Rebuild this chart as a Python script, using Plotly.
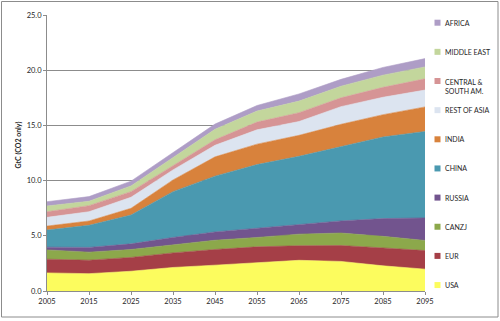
import plotly.graph_objects as go

# Regional CO2 emissions scenario (GtC), stacked by region
years = [2005, 2015, 2025, 2035, 2045, 2055, 2065, 2075, 2085, 2095]

usa = [1.64, 1.57, 1.79, 2.13, 2.34, 2.55, 2.78, 2.68, 2.28, 1.98]
eur = [1.24, 1.22, 1.25, 1.32, 1.42, 1.45, 1.32, 1.44, 1.62, 1.68]
canzj = [0.84, 0.73, 0.72, 0.70, 0.84, 0.85, 1.05, 1.13, 1.05, 0.92]
russia = [0.25, 0.43, 0.51, 0.70, 0.75, 0.82, 0.90, 1.10, 1.61, 2.04]
china = [1.55, 2.00, 2.61, 4.15, 5.05, 5.78, 6.15, 6.75, 7.39, 7.83]
india = [0.36, 0.39, 0.61, 1.06, 1.75, 1.85, 1.90, 2.00, 2.02, 2.22]
rest_of_asia = [0.79, 0.84, 1.00, 0.91, 1.05, 1.30, 1.25, 1.60, 1.58, 1.53]
central_south_am = [0.51, 0.55, 0.51, 0.39, 0.50, 0.70, 0.80, 0.80, 0.90, 1.02]
middle_east = [0.52, 0.40, 0.52, 0.74, 0.95, 1.00, 1.05, 1.05, 1.10, 1.08]
africa = [0.39, 0.42, 0.43, 0.40, 0.47, 0.50, 0.65, 0.62, 0.70, 0.75]

region_names = ["USA", "EUR", "CANZJ", "RUSSIA", "CHINA", "INDIA",
                "REST OF ASIA", "CENTRAL &<br>SOUTH AM.", "MIDDLE EAST", "AFRICA"]
region_values = [usa, eur, canzj, russia, china, india,
                 rest_of_asia, central_south_am, middle_east, africa]
region_colors = ["#FCFC5E", "#A53F47", "#8CA84B", "#72548E", "#4A99B0",
                 "#D8823C", "#DCE4F0", "#D69495", "#C3D69C", "#AE9DC6"]

y_ticks = [0, 5, 10, 15, 20, 25]

W, H = 500, 321
L, R, T, B = 47, 425, 15, 291   # plot area in pixels


def px_x(px):
    return (px - L) / (R - L)


def px_y(py):
    return (B - py) / (B - T)


fig = go.Figure()
for name, vals, col in zip(region_names, region_values, region_colors):
    fig.add_trace(go.Scatter(
        x=years, y=vals, name=name.replace("<br>", " "),
        stackgroup="one", mode="lines",
        line=dict(width=0.6, color=col), fillcolor=col,
        showlegend=False, hoverinfo="x+y+name",
    ))

font_family = "Lato, 'Open Sans', sans-serif"
text_color = "#262626"

shapes = []
annotations = []

# Legend: top entry is the last stacked series
legend_top = 22.7
legend_step = 29.15
for i, (name, col) in enumerate(zip(region_names[::-1], region_colors[::-1])):
    cy = legend_top + i * legend_step
    shapes.append(dict(
        type="rect", xref="paper", yref="paper",
        x0=px_x(434.5), x1=px_x(440.5), y0=px_y(cy + 3), y1=px_y(cy - 3),
        fillcolor=col, line=dict(width=0), layer="above",
    ))
    if "<br>" in name:
        annotations.append(dict(
            xref="paper", yref="paper", x=px_x(443), y=px_y(cy - 5),
            xanchor="left", yanchor="top", align="left", showarrow=False,
            text=name, font=dict(size=7, color=text_color, family=font_family),
        ))
    else:
        annotations.append(dict(
            xref="paper", yref="paper", x=px_x(443), y=px_y(cy),
            xanchor="left", yanchor="middle", showarrow=False,
            text=name, font=dict(size=7, color=text_color, family=font_family),
        ))

# Axis title
annotations.append(dict(
    xref="paper", yref="paper", x=px_x(17.5), y=px_y(145),
    xanchor="center", yanchor="middle", showarrow=False, textangle=-90,
    text="<b>GtC (CO2 only)</b>",
    font=dict(size=7, color=text_color, family=font_family),
))

# Chart frame
shapes.append(dict(
    type="rect", xref="paper", yref="paper",
    x0=px_x(1.5), x1=px_x(498), y0=px_y(317), y1=px_y(1.5),
    line=dict(color="#8C8C8C", width=1), fillcolor="rgba(0,0,0,0)", layer="below",
))

fig.update_layout(
    width=W, height=H,
    margin=dict(l=L, r=W - R, t=T, b=H - B),
    paper_bgcolor="white", plot_bgcolor="white",
    font=dict(family=font_family, size=7.5, color=text_color),
    showlegend=False,
    shapes=shapes, annotations=annotations,
    xaxis=dict(
        range=[years[0], years[-1]], tickmode="array", tickvals=years,
        ticktext=[str(y) for y in years],
        showgrid=False, zeroline=False,
        showline=True, linecolor="#8C8C8C", linewidth=1,
        ticks="outside", ticklen=3, tickcolor="#8C8C8C",
        tickfont=dict(size=7.5, color=text_color),
    ),
    yaxis=dict(
        range=[0, 25], tickmode="array", tickvals=y_ticks,
        ticktext=[f"{v:.1f}" for v in y_ticks],
        showgrid=True, gridcolor="#8C8C8C", gridwidth=1, zeroline=False,
        showline=True, linecolor="#8C8C8C", linewidth=1,
        ticks="outside", ticklen=3, tickcolor="#8C8C8C",
        tickfont=dict(size=7.5, color=text_color),
    ),
)

fig.write_html("out.html")
